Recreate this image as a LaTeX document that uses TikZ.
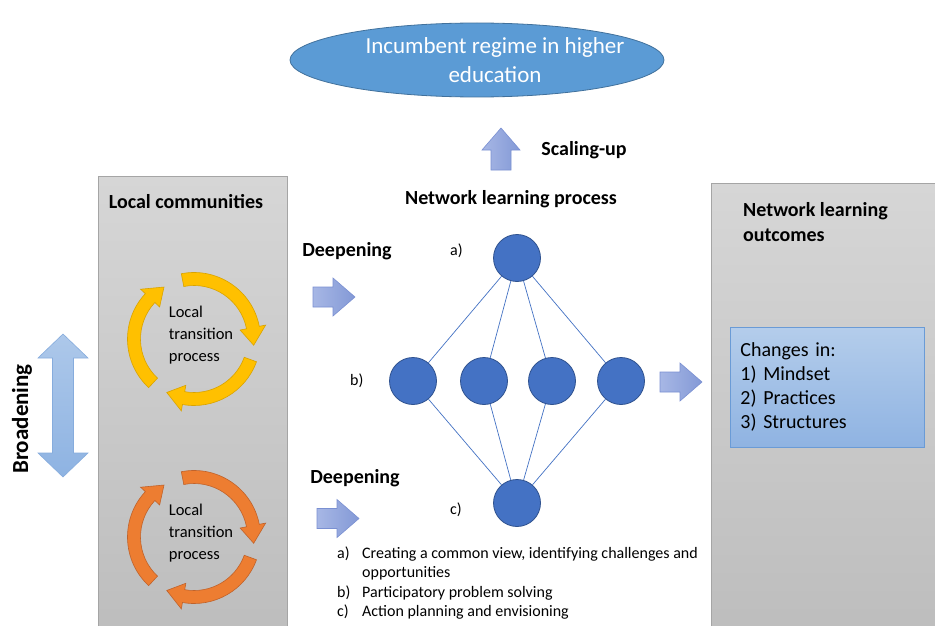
\documentclass[tikz,border=0pt]{standalone}
\usepackage{fontspec}
\setmainfont{Carlito}
\usetikzlibrary{shapes.geometric}

\definecolor{regimefill}{HTML}{5B9BD5}
\definecolor{regimeline}{HTML}{41719C}
\definecolor{panelline}{HTML}{A5A5A5}
\definecolor{paneltop}{HTML}{D6D6D6}
\definecolor{panelbot}{HTML}{BDBDBD}
\definecolor{outtop}{HTML}{B4CDEB}
\definecolor{outbot}{HTML}{8FB3E2}
\definecolor{outline}{HTML}{6A9BD6}
\definecolor{arrtop}{HTML}{A7B7E5}
\definecolor{arrbot}{HTML}{8399D6}
\definecolor{arrline}{HTML}{7A90D2}
\definecolor{broadtop}{HTML}{ADC8EA}
\definecolor{broadbot}{HTML}{8EB3E2}
\definecolor{broadline}{HTML}{86ACDD}
\definecolor{netfill}{HTML}{4472C4}
\definecolor{netline}{HTML}{2F528F}
\definecolor{cycyellow}{HTML}{FFC000}
\definecolor{cycyellowline}{HTML}{D9A300}
\definecolor{cycorange}{HTML}{ED7D31}
\definecolor{cycorangeline}{HTML}{C0622A}

% curved arrow of a cycle: tail angle #1, tip angle #2 (clockwise)
\newcommand\cycarrow[2]{%
  (#1:66.5) arc[start angle=#1, end angle={#2+17}, radius=66.5]
  -- ({#2+17}:73) -- (#2:60) -- ({#2+17}:47) -- ({#2+17}:53.5)
  arc[start angle={#2+17}, end angle=#1, radius=53.5] -- cycle}

\tikzset{
  panel/.style={draw=panelline, line width=0.8pt, top color=paneltop, bottom color=panelbot,
    anchor=north west, inner sep=0pt},
  heading/.style={font=\fontsize{20}{24.5}\selectfont\bfseries, inner sep=0pt, text=black},
  regime/.style={ellipse, draw=regimeline, line width=0.8pt, fill=regimefill,
    minimum width=374pt, minimum height=74pt, inner sep=0pt},
  regimetext/.style={text=white, align=center, inner sep=0pt,
    font=\fontsize{23}{28.5}\selectfont},
  outbox/.style={draw=outline, line width=0.8pt, top color=outtop, bottom color=outbot,
    anchor=north west, minimum width=194pt, minimum height=120pt, inner xsep=10pt,
    text width=174pt, align=left, font=\fontsize{20}{24}\selectfont},
  blockarrow/.pic={\path[pic actions] (0,-10) -- (20,-10) -- (20,-19) -- (42,0)
    -- (20,19) -- (20,10) -- (0,10) -- cycle;},
  flowarrow/.style={draw=arrline, line width=0.6pt, left color=arrtop, right color=arrbot},
  netnode/.style={circle, minimum size=47pt, inner sep=0pt, fill=netfill, draw=netline,
    line width=0.8pt},
  netedge/.style={draw=netfill, line width=0.7pt},
  smalltext/.style={font=\fontsize{16}{19}\selectfont, inner sep=0pt, anchor=base west},
  cyclelabel/.style={font=\fontsize{16.5}{21.7}\selectfont, align=left, inner sep=0pt},
}

\begin{document}
\begin{tikzpicture}[x=1pt, y=1pt]
\useasboundingbox (0,0) rectangle (935,-626);
\fill[white] (0,0) rectangle (935,-626);

% grey panels
\node[panel, minimum width=189pt, minimum height=460pt] (commpanel) at (98,-176) {};
\node[panel, minimum width=230pt, minimum height=452pt] (outpanel) at (711,-183) {};

% regime
\node[regime] (regime) at (477,-60) {};
\node[regimetext] (regimelabel) at (495,-60) {Incumbent regime in higher\\education};

% headings
\node[heading] (scaletitle) at (584,-150) {Scaling-up};
\node[heading] (commtitle) at (186,-202) {Local communities};
\node[heading] (nettitle) at (511,-199) {Network learning process};
\node[heading, anchor=west, align=left] (outtitle) at (743,-222) {Network learning\\outcomes};
\node[heading] (deepa) at (347,-251) {Deepening};
\node[heading] (deepb) at (355,-478) {Deepening};
\node[heading, rotate=90, font=\fontsize{23}{28}\selectfont\bfseries] (broad) at (22,-419) {Broadening};

% block arrows
\pic[flowarrow, rotate=90] (scalearrow) at (501,-170) {blockarrow};
\pic[flowarrow] (deeparrowa) at (313,-297) {blockarrow};
\pic[flowarrow] (deeparrowb) at (317,-518.5) {blockarrow};
\pic[flowarrow] (outarrow) at (660,-382) {blockarrow};

% broadening double arrow
\path[draw=broadline, line width=0.6pt, top color=broadtop, bottom color=broadbot]
  (63,-334) -- (88,-358) -- (73.5,-358) -- (73.5,-453) -- (88,-453) -- (63,-477)
  -- (38,-453) -- (52.5,-453) -- (52.5,-358) -- (38,-358) -- cycle;

% local transition cycles
\begin{scope}[shift={(194,-339)}]
  \foreach \ta/\tb in {101/-6, -20/-117, -133/-240}
    \path[fill=cycyellow, draw=cycyellowline, line width=0.6pt] \cycarrow{\ta}{\tb};
\end{scope}
\begin{scope}[shift={(194,-537)}]
  \foreach \ta/\tb in {101/-6, -20/-117, -133/-240}
    \path[fill=cycorange, draw=cycorangeline, line width=0.6pt] \cycarrow{\ta}{\tb};
\end{scope}
\node[cyclelabel] (cycletexta) at (201,-335) {Local\\transition\\process};
\node[cyclelabel] (cycletextb) at (201,-533) {Local\\transition\\process};

% network
\node[netnode] (na) at (517,-258) {};
\node[netnode] (nb1) at (413,-381) {};
\node[netnode] (nb2) at (484,-381) {};
\node[netnode] (nb3) at (552,-381) {};
\node[netnode] (nb4) at (621,-381) {};
\node[netnode] (nc) at (517,-503) {};
\foreach \b in {nb1,nb2,nb3,nb4} {
  \draw[netedge] (na) -- (\b);
  \draw[netedge] (nc) -- (\b);
}
\node[smalltext] (labela) at (450,-255) {a)};
\node[smalltext] (labelb) at (350,-385) {b)};
\node[smalltext] (labelc) at (450,-514) {c)};

% outcomes
\node[outbox] (changes) at (730,-327) {Changes in:\\1) Mindset\\2) Practices\\3) Structures};

% legend of the phases
\node[smalltext] (itema) at (337,-558) {a)};
\node[smalltext] (itemat) at (362,-558) {Creating a common view, identifying challenges and};
\node[smalltext] (itemat2) at (362,-577.5) {opportunities};
\node[smalltext] (itemb) at (337,-597) {b)};
\node[smalltext] (itembt) at (362,-597) {Participatory problem solving};
\node[smalltext] (itemc) at (337,-616.5) {c)};
\node[smalltext] (itemct) at (362,-616.5) {Action planning and envisioning};
\end{tikzpicture}
\end{document}
